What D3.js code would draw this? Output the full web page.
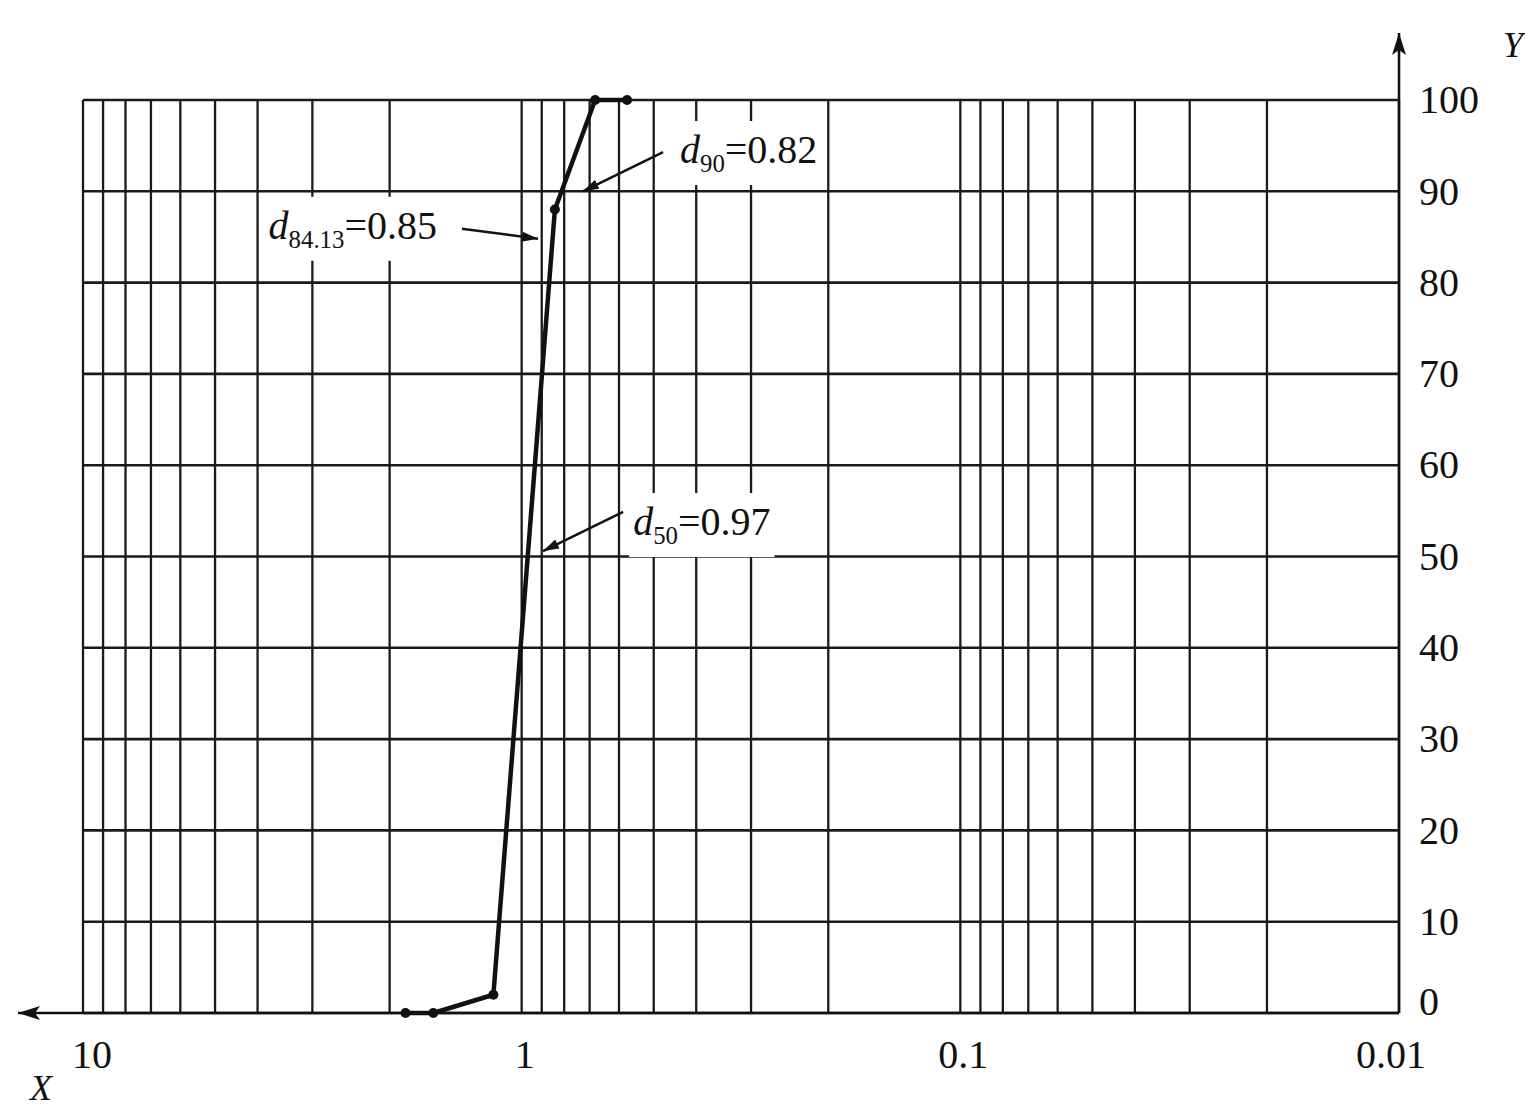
<!DOCTYPE html>
<html>
<head>
<meta charset="utf-8">
<script src="https://cdn.jsdelivr.net/npm/d3@7"></script>
<style>
  body { margin: 0; background: #fff; }
  svg { display: block; font-family: "Liberation Serif", "DejaVu Serif", serif; }
</style>
</head>
<body>
<div id="chart"></div>
<script>
// particle size (mm) vs cumulative passing (%)
const sizes = [1.84, 1.59, 1.16, 0.84, 0.68, 0.575]
const passing = [0, 0, 2, 88, 100, 100]

const xTickValues = [10, 1, 0.1, 0.01]
const xTickLabels = ['10', '1', '0.1', '0.01']
const yTickValues = [0, 10, 20, 30, 40, 50, 60, 70, 80, 90, 100]

// annotations: subscript, value, arrow tip, arrow tail, label anchor (data space)
const annoSub = ['84.13', '90', '50']
const annoVal = ['0.85', '0.82', '0.97']
const annoTip = [[0.918, 84.8], [0.725, 90], [0.894, 50.6]]
const annoTail = [[1.368, 85.9], [0.476, 94.3], [0.587, 54.9]]
const annoAt = [[1.56, 84.8], [0.4355, 93.1], [0.557, 52.35]]
const annoSide = ['end', 'start', 'start']

const WIDTH = 1525
const HEIGHT = 1109
const LEFT = 83
const RIGHT = 1399
const TOP = 100
const BOTTOM = 1013
const FONT = 40

const svg = d3.select('#chart').append('svg').attr('width', WIDTH).attr('height', HEIGHT)

const x = d3.scaleLog().domain([10, 0.01]).range([LEFT, RIGHT])
const y = d3.scaleLinear().domain([0, 100]).range([BOTTOM, TOP])

const defs = svg.append('defs')
defs.append('marker')
	.attr('id', 'arrow')
	.attr('viewBox', '0 0 16 10')
	.attr('refX', 16).attr('refY', 5)
	.attr('markerWidth', 16).attr('markerHeight', 10)
	.attr('markerUnits', 'userSpaceOnUse')
	.attr('orient', 'auto')
	.append('path').attr('d', 'M0,0 L16,5 L0,10 Z').attr('fill', '#111')
defs.append('marker')
	.attr('id', 'axisArrow')
	.attr('viewBox', '0 0 22 14')
	.attr('refX', 22).attr('refY', 7)
	.attr('markerWidth', 22).attr('markerHeight', 14)
	.attr('markerUnits', 'userSpaceOnUse')
	.attr('orient', 'auto')
	.append('path').attr('d', 'M0,0 L22,7 L0,14 L5,7 Z').attr('fill', '#111')

// grid ----------------------------------------
const grid = svg.append('g').attr('id', 'grid').attr('stroke', '#1a1a1a')

grid.selectAll('line.v')
	.data(x.ticks())
	.join('line')
	.attr('class', 'v')
	.attr('x1', d => x(d)).attr('x2', d => x(d))
	.attr('y1', y(100)).attr('y2', y(0))
	.attr('stroke-width', 2.3)

grid.selectAll('line.h')
	.data(yTickValues)
	.join('line')
	.attr('class', 'h')
	.attr('x1', x(10)).attr('x2', x(0.01))
	.attr('y1', d => y(d)).attr('y2', d => y(d))
	.attr('stroke-width', 2.6)

// axes ----------------------------------------
const axes = svg.append('g').attr('id', 'axes').attr('stroke', '#111').attr('stroke-width', 2.6)

axes.append('line')
	.attr('x1', x(0.01)).attr('x2', 18)
	.attr('y1', y(0)).attr('y2', y(0))
	.attr('marker-end', 'url(#axisArrow)')

axes.append('line')
	.attr('x1', x(0.01)).attr('x2', x(0.01))
	.attr('y1', y(0)).attr('y2', 33)
	.attr('marker-end', 'url(#axisArrow)')

svg.append('g')
	.selectAll('text')
	.data(xTickValues)
	.join('text')
	.attr('x', d => x(d) + (d === 10 ? 9 : d === 0.01 ? -8 : 3))
	.attr('y', 1068)
	.attr('text-anchor', 'middle')
	.attr('font-size', FONT)
	.attr('fill', '#111')
	.text((d, i) => xTickLabels[i])

svg.append('g')
	.selectAll('text')
	.data(yTickValues)
	.join('text')
	.attr('x', x(0.01) + 20)
	.attr('y', d => y(d))
	.attr('dy', d => (d === 0 ? '0.05em' : '0.33em'))
	.attr('font-size', FONT)
	.attr('fill', '#111')
	.text(d => d)

svg.append('text').attr('x', 1503).attr('y', 57).attr('font-size', 36)
	.attr('font-style', 'italic').attr('fill', '#111').text('Y')
svg.append('text').attr('x', 30).attr('y', 1100).attr('font-size', 36)
	.attr('font-style', 'italic').attr('fill', '#111').text('X')

// curve ---------------------------------------
const points = sizes.map((s, i) => [s, passing[i]])

svg.append('path')
	.datum(points)
	.attr('fill', 'none')
	.attr('stroke', '#111')
	.attr('stroke-width', 4.5)
	.attr('stroke-linejoin', 'round')
	.attr('d', d3.line().x(d => x(d[0])).y(d => y(d[1])))

svg.append('g')
	.selectAll('circle')
	.data(points)
	.join('circle')
	.attr('cx', d => x(d[0]))
	.attr('cy', d => y(d[1]))
	.attr('r', 5)
	.attr('fill', '#111')

// annotations ---------------------------------
const notes = svg.append('g').attr('id', 'notes')

annoSub.forEach((sub, i) => {
	const g = notes.append('g')
	const t = g.append('text')
		.attr('x', x(annoAt[i][0]))
		.attr('y', y(annoAt[i][1]))
		.attr('text-anchor', annoSide[i])
		.attr('font-size', FONT)
		.attr('fill', '#111')
	t.append('tspan').attr('font-style', 'italic').text('d')
	t.append('tspan').attr('font-size', FONT * 0.62).attr('dy', 9).text(sub)
	t.append('tspan').attr('dy', -9).text('=' + annoVal[i])

	const box = t.node().getBBox()
	g.insert('rect', 'text')
		.attr('x', box.x - 4)
		.attr('y', box.y - 6)
		.attr('width', box.width + 8)
		.attr('height', box.height + 14)
		.attr('fill', '#fff')

	g.append('line')
		.attr('x1', x(annoTail[i][0])).attr('y1', y(annoTail[i][1]))
		.attr('x2', x(annoTip[i][0])).attr('y2', y(annoTip[i][1]))
		.attr('stroke', '#111')
		.attr('stroke-width', 2.5)
		.attr('marker-end', 'url(#arrow)')
})
</script>
</body>
</html>
